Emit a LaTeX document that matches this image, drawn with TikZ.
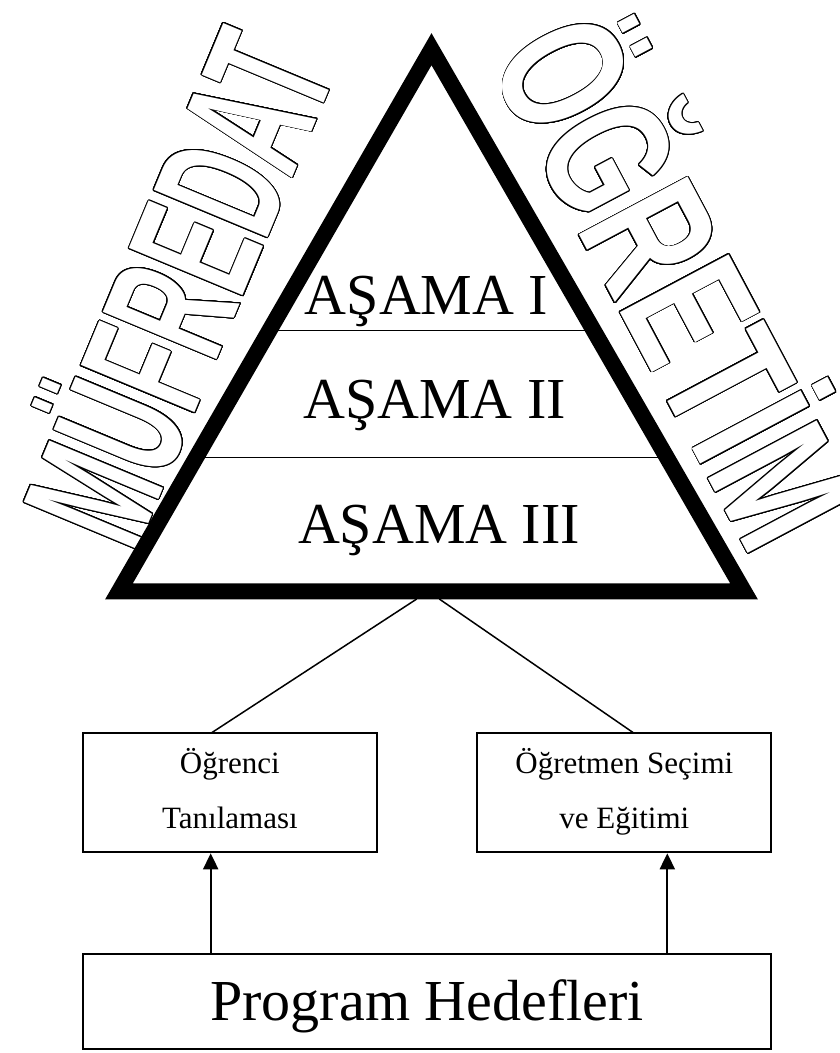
\documentclass[tikz,border=0pt]{standalone}
\usepackage{fontspec}
\setmainfont{Liberation Serif}
\newfontfamily\narrowoutfont[FakeStretch=0.531]{Liberation Sans}
\newfontfamily\wideoutfont[FakeStretch=0.676]{Liberation Sans}
\usepackage[copies]{contour}
\contourlength{0.9pt}
\contournumber{32}
\newcommand\boxstrut{\rule[-19.5pt]{0pt}{55pt}}
\usetikzlibrary{arrows.meta}
\begin{document}
\begin{tikzpicture}[x=1pt,y=-1pt,
  outl/.style={inner sep=0pt, text=white},
  stage/.style={inner sep=0pt, anchor=base, font=\fontsize{58}{58}\selectfont},
  box/.style={draw, line width=2pt, inner sep=0pt, align=center, font=\fontsize{31}{55}\selectfont},
  conn/.style={line width=1.5pt},
  arr/.style={line width=2pt, -{Triangle[length=16pt,width=15pt]}},
  tri/.style={line width=16pt, line join=miter}]
\useasboundingbox (0,0) rectangle (840,1053);
% outlined words
\node[outl, rotate=67.4, anchor=base, font=\narrowoutfont\bfseries\fontsize{179}{179}\selectfont] (muf) at (236.5,312.4) {\contour{black}{MÜFREDAT}};
\node[outl, rotate=-62, anchor=base, font=\wideoutfont\bfseries\fontsize{179}{179}\selectfont] (ogr) at (619.5,311) {\contour{black}{ÖĞRETİM}};
% triangle
\coordinate (A) at (119,591.3);
\coordinate (B) at (744,591.3);
\coordinate (C) at (431.5,49.2);
\coordinate (h1l) at (269.5,330.7);
\coordinate (h1r) at (593.5,330.7);
\coordinate (h2l) at (196.1,457.7);
\coordinate (h2r) at (667.9,457.7);
\draw[line width=1.3pt] (h1l) -- (h1r);
\draw[line width=1.3pt] (h2l) -- (h2r);
\draw[tri] (A) -- (B) -- (C) -- cycle;
\node[stage] (s1) at (426.6,314) {AŞAMA I};
\node[stage] (s2) at (434.5,418) {AŞAMA II};
\node[stage] (s3) at (439,543) {AŞAMA III};
% boxes
\node[box, minimum width=293.2pt, minimum height=119.6pt] (lbox) at (229.9,792.5) {\boxstrut Öğrenci\\\boxstrut Tanılaması};
\node[box, minimum width=294pt, minimum height=119.6pt] (rbox) at (624.3,792.5) {\boxstrut Öğretmen Seçimi\\\boxstrut ve Eğitimi};
\node[draw, line width=2pt, inner sep=0pt, minimum width=688pt, minimum height=94.5pt] (pbox) at (427,1001.7) {};
\node[stage] (ptext) at (427,1020) {Program Hedefleri};
% connectors
\coordinate (t1) at (416.7,599);
\coordinate (t2) at (439.3,599);
\coordinate (c1) at (211.7,732.7);
\coordinate (c2) at (633.3,732.7);
\draw[conn] (t1) -- (c1);
\draw[conn] (t2) -- (c2);
\coordinate (a1) at (210.7,954.5);
\coordinate (a2) at (667.3,954.5);
\draw[arr] (a1) -- (a1 |- lbox.south);
\draw[arr] (a2) -- (a2 |- rbox.south);
\end{tikzpicture}
\end{document}
